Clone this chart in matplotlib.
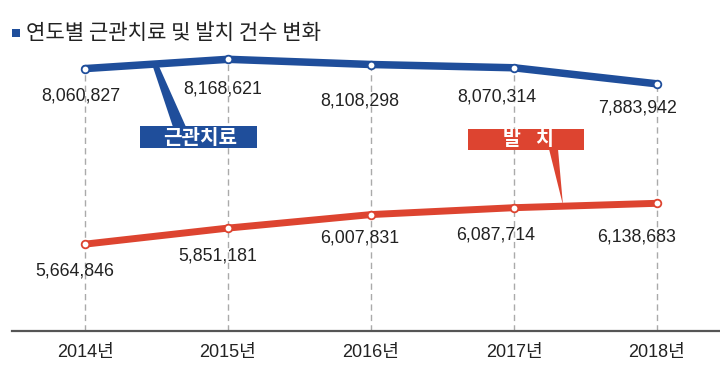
import numpy as np
import matplotlib
matplotlib.use('Agg')
import matplotlib.pyplot as plt
from matplotlib import font_manager
from matplotlib.patches import Rectangle, Polygon
from matplotlib.transforms import IdentityTransform

# ---------------- data ----------------
years = ['2014년', '2015년', '2016년', '2017년', '2018년']
root_canal = [8060827, 8168621, 8108298, 8070314, 7883942]   # 근관치료
extraction = [5664846, 5851181, 6007831, 6087714, 6138683]   # 발치
title = '연도별 근관치료 및 발치 건수 변화'
series_names = ['근관치료', '발', '치']

# ---------------- style ----------------
BLUE = '#1f4e9b'
RED = '#dd4430'
TXT = '#222222'
W, H = 720, 374

names = {f.name for f in font_manager.fontManager.ttflist}
NUM = 'Liberation Sans Narrow' if 'Liberation Sans Narrow' in names else 'Liberation Sans'
KR = 'Noto Sans CJK KR'
num_fam = [NUM, KR, 'DejaVu Sans']
kr_fam = [KR, 'DejaVu Sans']

def P(x, y):
    """pixel (top-left origin) -> figure fraction"""
    return (x / W, 1 - y / H)

fig = plt.figure(figsize=(W / 100, H / 100), dpi=100)
fig.patch.set_facecolor('white')
ax = fig.add_axes([12 / W, 1 - 331 / H, 708 / W, 286 / H])
ax2 = ax.twinx()

scale = 11600  # values per pixel
ax.set_ylim(5016901, 5016901 + 286 * scale)
ax2.set_ylim(4657363, 4657363 + 286 * scale)
ax.set_xlim(-0.5105, 4.4406)
ax2.set_xlim(-0.5105, 4.4406)

idx = np.arange(len(years))

for a in (ax, ax2):
    for s in ('top', 'right', 'left'):
        a.spines[s].set_visible(False)
    a.set_yticks([])
ax2.spines['bottom'].set_visible(False)
ax.spines['bottom'].set_color('#555555')
ax.spines['bottom'].set_linewidth(1.6)

# dashed guide lines
ax.vlines(idx, ax.get_ylim()[0], root_canal, colors='#aaaaaa',
          linestyles=(0, (4.5, 3)), linewidth=1.0, zorder=1)

# lines
ax.plot(idx, root_canal, color=BLUE, lw=5.4, solid_capstyle='round',
        solid_joinstyle='round', marker='o', ms=5.5, mfc='white', mec=BLUE,
        mew=1.3, zorder=3)
ax2.plot(idx, extraction, color=RED, lw=5.0, solid_capstyle='round',
         solid_joinstyle='round', marker='o', ms=5.5, mfc='white', mec=RED,
         mew=1.3, zorder=3)

# value labels (offsets in pixels: right, down)
blue_off = [(-4, 27), (-5, 30), (-11, 36), (-17, 29), (-19, 24)]
red_off = [(-10, 27), (-10, 28), (-11, 23), (-18, 27), (-20, 34)]
for i, v in enumerate(root_canal):
    ax.annotate(f'{v:,}', (idx[i], v), xytext=(blue_off[i][0], -blue_off[i][1]),
                textcoords='offset pixels', ha='center', va='center',
                fontsize=12.8, family=num_fam, color=TXT, zorder=5)
for i, v in enumerate(extraction):
    ax2.annotate(f'{v:,}', (idx[i], v), xytext=(red_off[i][0], -red_off[i][1]),
                 textcoords='offset pixels', ha='center', va='center',
                 fontsize=12.8, family=num_fam, color=TXT, zorder=5)

# x tick labels
ax.set_xticks(idx)
ax.set_xticklabels(years, family=num_fam, fontsize=13, color=TXT)
ax.tick_params(axis='x', length=0, pad=9)

# title
fig.add_artist(Rectangle(P(12, 37), 8 / W, 8 / H, transform=fig.transFigure,
                         color=BLUE, lw=0))
fig.text(*P(26, 33), title, ha='left', va='center', fontsize=15.2,
         family=kr_fam, color=TXT)

# series callout boxes
fig.canvas.draw()

def to_px(a, x, y):
    dx, dy = a.transData.transform((x, y))
    return dx, dy

# blue callout
bx = (155 - 12) / 143 - 0.5105
tip_b = to_px(ax, bx, np.interp(bx, idx, root_canal))
poly_b = [(tip_b[0] - 3, tip_b[1]), (tip_b[0] + 3, tip_b[1]),
          (186, H - 127), (173, H - 127)]
fig.add_artist(Polygon(poly_b, closed=True, transform=IdentityTransform(),
                       color=BLUE, lw=0, zorder=6))
fig.add_artist(Rectangle(P(140, 148), 117 / W, 22 / H, transform=fig.transFigure,
                         color=BLUE, lw=0, zorder=6))
fig.text(*P(200.5, 137.5), series_names[0], ha='center', va='center',
         fontsize=14.5, fontweight='bold', family=kr_fam, color='white', zorder=7)

# red callout
rx = (563 - 12) / 143 - 0.5105
tip_r = to_px(ax2, rx, np.interp(rx, idx, extraction))
poly_r = [(549, H - 149), (558, H - 149), (tip_r[0], tip_r[1] + 1)]
fig.add_artist(Polygon(poly_r, closed=True, transform=IdentityTransform(),
                       color=RED, lw=0, zorder=6))
fig.add_artist(Rectangle(P(468, 150), 116 / W, 21 / H, transform=fig.transFigure,
                         color=RED, lw=0, zorder=6))
fig.text(*P(512, 140), series_names[1], ha='center', va='center',
         fontsize=14, fontweight='bold', family=kr_fam, color='white', zorder=7)
fig.text(*P(544, 140), series_names[2], ha='center', va='center',
         fontsize=14, fontweight='bold', family=kr_fam, color='white', zorder=7)

fig.savefig('out.png', dpi=100, facecolor='white')
